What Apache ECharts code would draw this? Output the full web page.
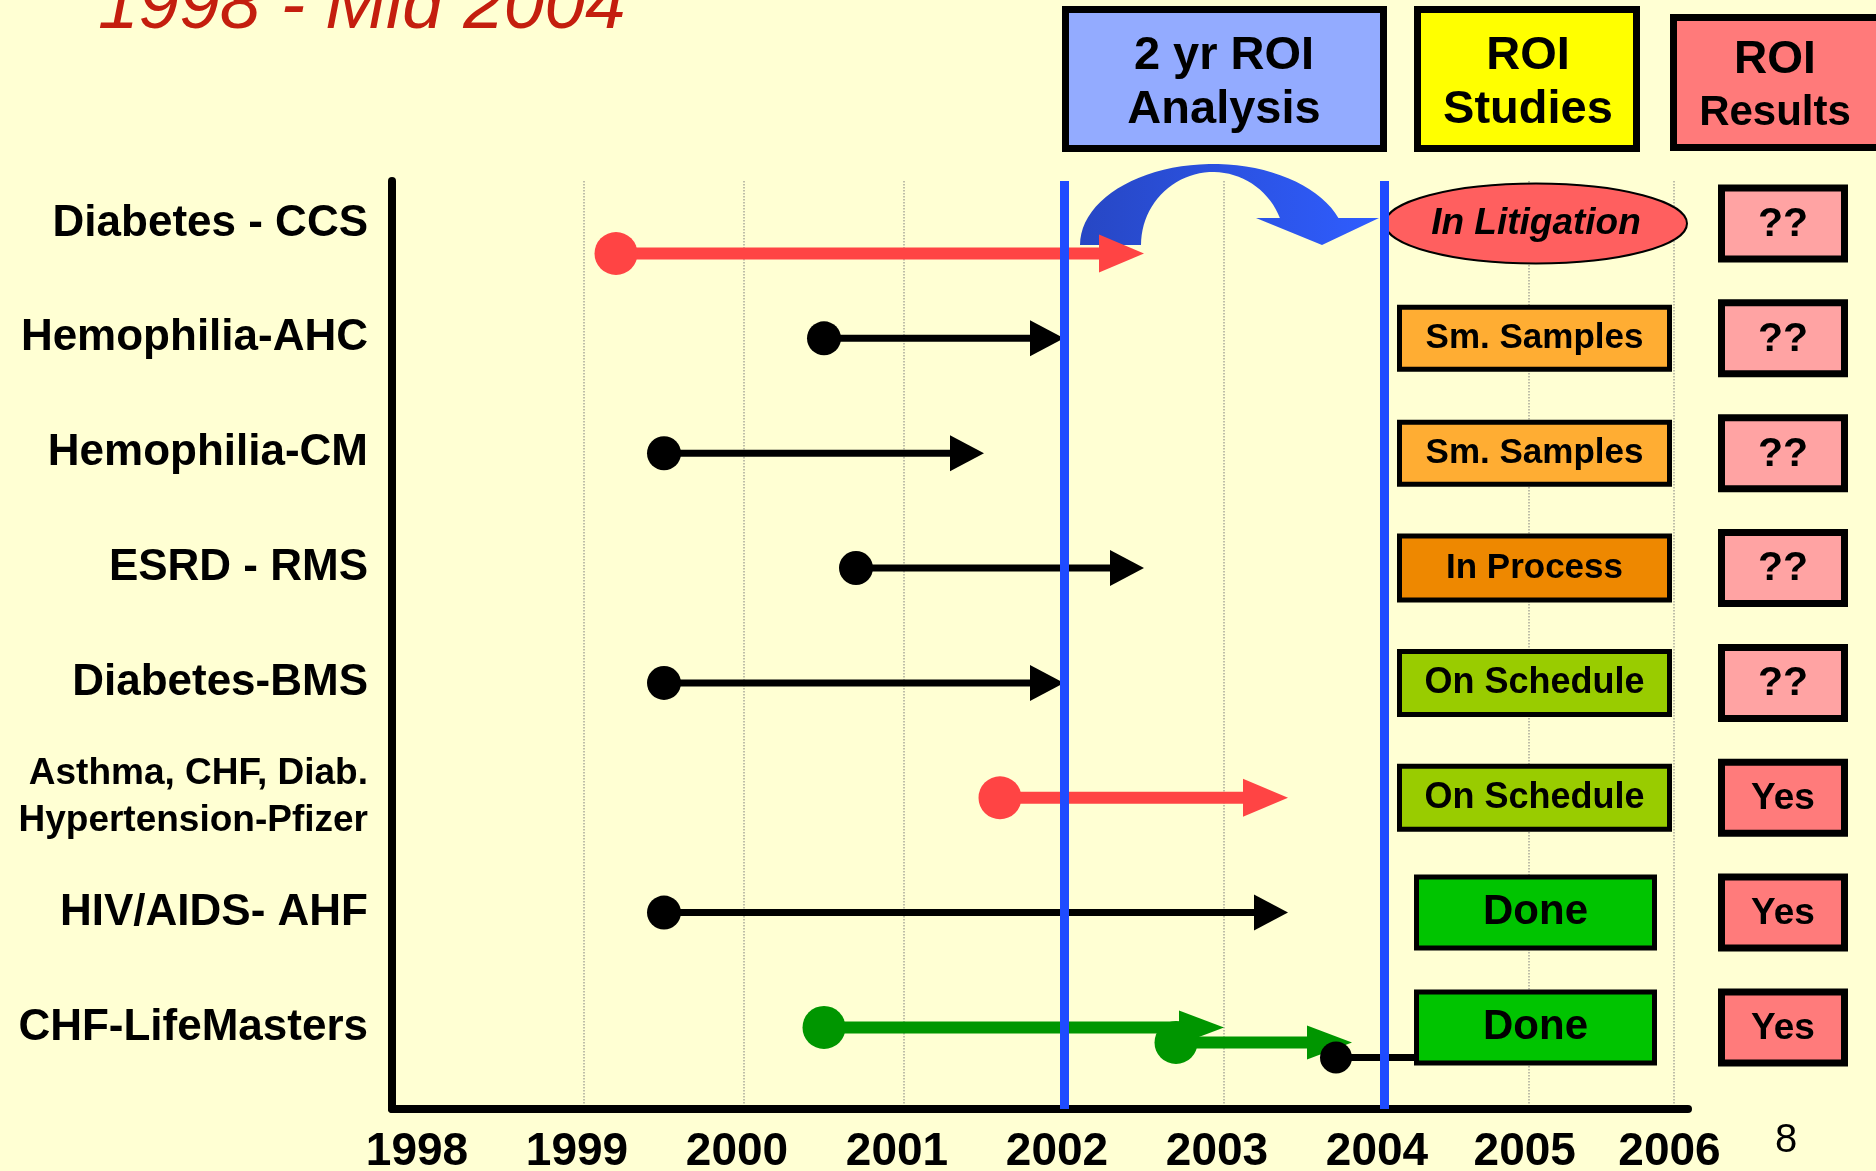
<!DOCTYPE html>
<html>
<head>
<meta charset="utf-8">
<title>ROI studies 1998 - Mid 2004</title>
<script src="https://cdn.jsdelivr.net/npm/echarts@6/dist/echarts.min.js"></script>
<style>
  html, body { margin: 0; padding: 0; background: #FFFFD3; }
  #chart { width: 1876px; height: 1171px; }
</style>
</head>
<body>
<div id="chart"></div>
<script>
// programs, top to bottom
var programs = [
  'Diabetes - CCS',
  'Hemophilia-AHC',
  'Hemophilia-CM',
  'ESRD - RMS',
  'Diabetes-BMS',
  'Asthma, CHF, Diab.\nHypertension-Pfizer',
  'HIV/AIDS- AHF',
  'CHF-LifeMasters'
]
var yearLabels = [1998, 1999, 2000, 2001, 2002, 2003, 2004, 2005, 2006]
var gridYears = [1999, 2000, 2001, 2002, 2003, 2004, 2005, 2006]
var analysisWindow = [2002, 2004]

// one entry per arrow (start = dot, end = arrow tip)
var segRow = [0, 1, 2, 3, 4, 5, 6, 7, 7, 7]
var segStart = [1999.2, 2000.5, 1999.5, 2000.7, 1999.5, 2001.6, 1999.5, 2000.5, 2002.7, 2003.7]
var segEnd = [2002.5, 2002.0, 2001.5, 2002.5, 2002.0, 2003.4, 2003.4, 2003.0, 2003.8, 2004.2]
var segLane = [2, 0, 0, 0, 0, 0, 0, 0, 1, 2]
var segKind = ['red', 'black', 'black', 'black', 'black', 'red', 'black', 'green', 'green', 'stub']

var studyStatus = ['In Litigation', 'Sm. Samples', 'Sm. Samples', 'In Process', 'On Schedule', 'On Schedule', 'Done', 'Done']
var roiResult = ['??', '??', '??', '??', '??', 'Yes', 'Yes', 'Yes']

var FONT = "'Liberation Sans', Arial, Helvetica, sans-serif"
var LANE_GAP = 15

var kindStyle = {
  red: { color: '#FF4444', width: 12, r: 21.5, head: 45, half: 19 },
  black: { color: '#000000', width: 7, r: 17, head: 34, half: 18 },
  green: { color: '#009600', width: 12, r: 21.5, head: 45, half: 17 },
  stub: { color: '#000000', width: 7, r: 16, head: 0, half: 0 }
}

var statusStyle = {
  'In Litigation': { fill: '#FF5F5F', oval: true, font: 'italic bold 37px ' + FONT },
  'Sm. Samples': { fill: '#FFAD33', h: 67, x0: 13, x1: 288, font: 'bold 35px ' + FONT },
  'In Process': { fill: '#EE8800', h: 69, x0: 13, x1: 288, font: 'bold 35px ' + FONT },
  'On Schedule': { fill: '#99CC00', h: 68, x0: 13, x1: 288, font: 'bold 36px ' + FONT },
  'Done': { fill: '#00C400', h: 76, x0: 30, x1: 273, font: 'bold 42px ' + FONT }
}
var resultFill = { '??': '#FFA3A3', 'Yes': '#FF7B7B' }

function renderArrow(params, api) {
  var k = kindStyle[segKind[params.dataIndex]]
  var p0 = api.coord([api.value(1), api.value(0)])
  var p1 = api.coord([api.value(2), api.value(0)])
  var y = p0[1] + api.value(3) * LANE_GAP
  var children = [{
    type: 'line',
    shape: { x1: p0[0], y1: y, x2: p1[0] - k.head + 1, y2: y },
    style: { stroke: k.color, lineWidth: k.width }
  }]
  if (k.head) {
    children.push({
      type: 'polygon',
      shape: { points: [[p1[0], y], [p1[0] - k.head, y - k.half], [p1[0] - k.head, y + k.half]] },
      style: { fill: k.color }
    })
  }
  children.push({ type: 'circle', shape: { cx: p0[0], cy: y, r: k.r }, style: { fill: k.color } })
  return { type: 'group', children: children }
}

function renderStatus(params, api) {
  var i = params.dataIndex
  var left = params.coordSys.x
  var y = api.coord([2005, api.value(0)])[1]
  var s = statusStyle[studyStatus[i]]
  var children = []
  var cx
  if (s.oval) {
    cx = left + 152
    children.push({
      type: 'ellipse',
      shape: { cx: cx, cy: y, rx: 151, ry: 40 },
      style: { fill: s.fill, stroke: '#000', lineWidth: 2 }
    })
  } else {
    cx = left + (s.x0 + s.x1) / 2
    children.push({
      type: 'rect',
      shape: { x: left + s.x0 + 2.5, y: y - s.h / 2 + 2.5, width: s.x1 - s.x0 - 5, height: s.h - 5 },
      style: { fill: s.fill, stroke: '#000', lineWidth: 5 }
    })
  }
  children.push({
    type: 'text',
    style: { text: studyStatus[i], x: cx, y: y, align: 'center', verticalAlign: 'middle', font: s.font, fill: '#000' }
  })
  // result box
  var r = roiResult[i]
  children.push({
    type: 'rect',
    shape: { x: left + 334 + 3.5, y: y - 39 + 3.5, width: 130 - 7, height: 78 - 7 },
    style: { fill: resultFill[r], stroke: '#000', lineWidth: 7 }
  })
  children.push({
    type: 'text',
    style: { text: r, x: left + 399, y: y + 1, align: 'center', verticalAlign: 'middle', font: 'bold ' + (r === 'Yes' ? 37 : 41) + 'px ' + FONT, fill: '#000' }
  })
  return { type: 'group', children: children }
}

function arcPoints() {
  var cx = 1213
  var cy = 245
  var ro = [133, 81]
  var ri = [72, 73]
  var tOut = Math.asin(27 / ro[1])
  var tIn = Math.asin(27 / ri[1])
  var pts = []
  var k, t
  for (k = 0; k <= 40; k++) {
    t = Math.PI - (Math.PI - tOut) * k / 40
    pts.push([cx + ro[0] * Math.cos(t), cy - ro[1] * Math.sin(t)])
  }
  pts.push([1379, 218], [1322, 245], [1256, 218])
  for (k = 40; k >= 0; k--) {
    t = Math.PI - (Math.PI - tIn) * k / 40
    pts.push([cx + ri[0] * Math.cos(t), cy - ri[1] * Math.sin(t)])
  }
  return pts
}

var chart = echarts.init(document.getElementById('chart'))

var yAxisBase = {
  type: 'value',
  inverse: true,
  min: -0.37,
  max: 7.71,
  splitLine: { show: false },
  axisTick: { show: false }
}

var yearLabel = {
  formatter: function (v) { return String(v) },
  color: '#000',
  fontFamily: FONT,
  fontWeight: 'bold',
  fontSize: 46,
  margin: 20,
  padding: [0, 14, 0, 0]
}

var option = {
  backgroundColor: '#FFFFD3',
  animation: false,
  grid: [
    { left: 392, right: 492, top: 181, bottom: 62, outerBoundsMode: 'none' },
    { left: 1384, right: 188, top: 181, bottom: 62, outerBoundsMode: 'none' }
  ],
  xAxis: [
    {
      type: 'value',
      gridIndex: 0,
      min: 1997.8,
      max: 2004,
      axisLine: { show: true, onZero: false, lineStyle: { color: '#000', width: 8 } },
      axisTick: { show: false, customValues: gridYears.filter(function (v) { return v <= 2004 }) },
      axisLabel: Object.assign({ customValues: yearLabels.filter(function (v) { return v <= 2004 }) }, yearLabel),
      splitLine: { show: true, lineStyle: { color: '#A9A99A', width: 1.5, type: 'dotted' } }
    },
    {
      type: 'value',
      gridIndex: 1,
      min: 2004,
      max: 2006.1,
      axisLine: { show: true, onZero: false, lineStyle: { color: '#000', width: 8 } },
      axisTick: { show: false, customValues: gridYears.filter(function (v) { return v > 2004 }) },
      axisLabel: Object.assign({ customValues: yearLabels.filter(function (v) { return v > 2004 }) }, yearLabel, { padding: [0, 8, 0, 0] }),
      splitLine: { show: true, lineStyle: { color: '#A9A99A', width: 1.5, type: 'dotted' } }
    }
  ],
  yAxis: [
    Object.assign({}, yAxisBase, {
      gridIndex: 0,
      axisLine: { show: true, onZero: false, lineStyle: { color: '#000', width: 8 } },
      axisLabel: {
        customValues: programs.map(function (p, i) { return i }),
        formatter: function (v) {
          var name = programs[v]
          if (name.indexOf('\n') >= 0) {
            return name.split('\n').map(function (s) { return '{s|' + s + '}' }).join('\n')
          }
          return name
        },
        color: '#000',
        fontFamily: FONT,
        fontWeight: 'bold',
        fontSize: 44,
        margin: 24,
        rich: {
          s: { fontFamily: FONT, fontWeight: 'bold', fontSize: 37, lineHeight: 47, color: '#000', align: 'right' }
        }
      }
    }),
    Object.assign({}, yAxisBase, { gridIndex: 1, show: false })
  ],
  series: [
    {
      name: 'programs',
      type: 'custom',
      xAxisIndex: 0,
      yAxisIndex: 0,
      clip: false,
      z: 2,
      renderItem: renderArrow,
      encode: { x: [1, 2], y: 0 },
      data: segRow.map(function (r, i) { return [r, segStart[i], segEnd[i], segLane[i]] }),
      markLine: {
        silent: true,
        symbol: 'none',
        label: { show: false },
        lineStyle: { color: '#1F4BFF', width: 9, type: 'solid' },
        data: analysisWindow.map(function (v) { return { xAxis: v } })
      }
    },
    {
      name: 'status',
      type: 'custom',
      xAxisIndex: 1,
      yAxisIndex: 1,
      clip: false,
      z: 3,
      renderItem: renderStatus,
      dimensions: ['row'],
      encode: { y: 0 },
      data: studyStatus.map(function (s, i) { return [i] })
    }
  ],
  graphic: [
    {
      type: 'text', x: 98, y: 8, z: 20,
      style: { text: '1998 - Mid 2004', font: 'italic 73px ' + FONT, fill: '#C41E0E', verticalAlign: 'middle' }
    },
    {
      type: 'rect', z: 20,
      shape: { x: 1065.5, y: 9.5, width: 318, height: 139 },
      style: { fill: '#93ABFF', stroke: '#000', lineWidth: 7 }
    },
    { type: 'text', x: 1224, y: 56, z: 21, style: { text: '2 yr ROI', font: 'bold 47px ' + FONT, fill: '#000', align: 'center', verticalAlign: 'middle' } },
    { type: 'text', x: 1224, y: 110, z: 21, style: { text: 'Analysis', font: 'bold 47px ' + FONT, fill: '#000', align: 'center', verticalAlign: 'middle' } },
    {
      type: 'rect', z: 20,
      shape: { x: 1417.5, y: 9.5, width: 219, height: 139 },
      style: { fill: '#FFFF00', stroke: '#000', lineWidth: 7 }
    },
    { type: 'text', x: 1528, y: 56, z: 21, style: { text: 'ROI', font: 'bold 47px ' + FONT, fill: '#000', align: 'center', verticalAlign: 'middle' } },
    { type: 'text', x: 1528, y: 110, z: 21, style: { text: 'Studies', font: 'bold 47px ' + FONT, fill: '#000', align: 'center', verticalAlign: 'middle' } },
    {
      type: 'rect', z: 20,
      shape: { x: 1673.5, y: 17.5, width: 230, height: 130 },
      style: { fill: '#FF7A7A', stroke: '#000', lineWidth: 7 }
    },
    { type: 'text', x: 1775, y: 60, z: 21, style: { text: 'ROI', font: 'bold 46px ' + FONT, fill: '#000', align: 'center', verticalAlign: 'middle' } },
    { type: 'text', x: 1775, y: 113, z: 21, style: { text: 'Results', font: 'bold 42px ' + FONT, fill: '#000', align: 'center', verticalAlign: 'middle' } },
    {
      type: 'polygon', z: 1,
      shape: { points: arcPoints() },
      style: {
        fill: new echarts.graphic.LinearGradient(0, 0, 1, 0, [
          { offset: 0, color: '#2747C4' },
          { offset: 1, color: '#2F5DFF' }
        ])
      }
    },
    { type: 'text', x: 1786, y: 1141, z: 20, style: { text: '8', font: '40px ' + FONT, fill: '#000', align: 'center', verticalAlign: 'middle' } }
  ]
}

chart.setOption(option)
</script>
</body>
</html>
